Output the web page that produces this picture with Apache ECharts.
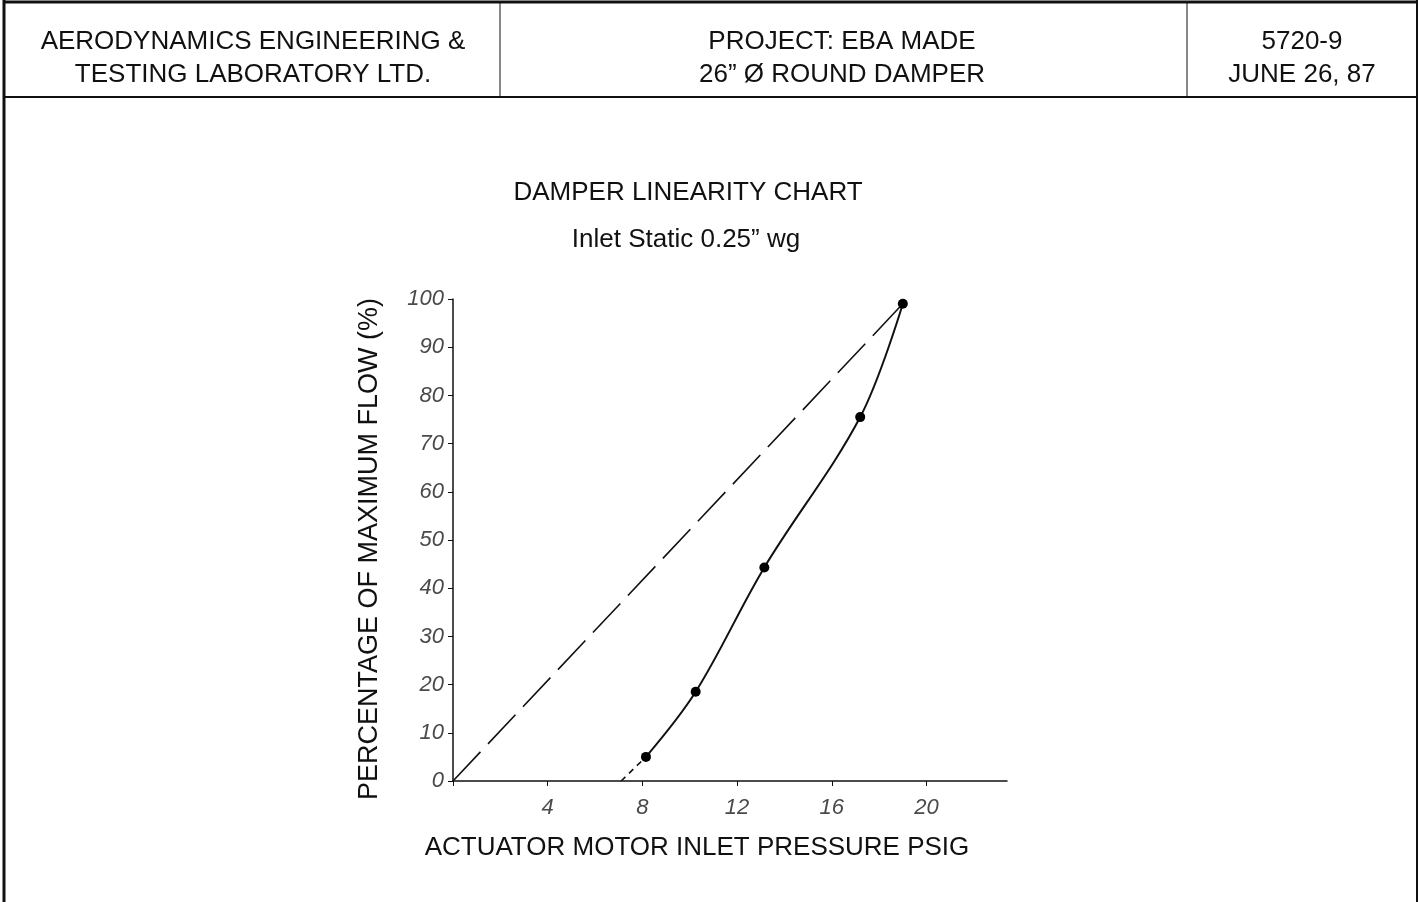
<!DOCTYPE html>
<html>
<head>
<meta charset="utf-8">
<title>Damper Linearity Chart</title>
<script src="https://cdn.jsdelivr.net/npm/echarts@6/dist/echarts.min.js"></script>
<style>
  html, body { margin: 0; padding: 0; background: #fff; }
  #main { width: 1420px; height: 902px; }
</style>
</head>
<body>
<div id="main"></div>
<script>
// measured points: actuator pressure (psig) vs % of max flow
var pressure = [8.15, 10.25, 13.15, 17.2, 19.0];
var flowPct = [5, 18.5, 44.3, 75.5, 99];
// extrapolated start of the curve, dashed down to the x axis
var extPressure = [7.1, 8.15];
var extFlow = [0, 5];
// ideal linear response
var idealPressure = [0, 19.0];
var idealFlow = [0, 99];

var xTicks = [4, 8, 12, 16, 20];
var yTicks = [0, 10, 20, 30, 40, 50, 60, 70, 80, 90, 100];

function pairs(xs, ys) {
  return xs.map(function (x, i) { return [x, ys[i]]; });
}

var font = "'Liberation Sans', Arial, Helvetica, sans-serif";
var chart = echarts.init(document.getElementById("main"));

var tickLabel = {
  fontFamily: font,
  fontStyle: "italic",
  fontSize: 22,
  color: "#4a4a4a"
};

chart.setOption({
  animation: false,
  backgroundColor: "#fff",
  title: [
    {
      text: "DAMPER LINEARITY CHART",
      left: 683, top: 175, textAlign: "center",
      textStyle: { fontFamily: font, fontSize: 26, fontWeight: "normal", color: "#111" }
    },
    {
      text: "Inlet Static 0.25\u201d wg",
      left: 681, top: 222, textAlign: "center",
      textStyle: { fontFamily: font, fontSize: 26, fontWeight: "normal", color: "#111" }
    }
  ],
  grid: { left: 453, top: 299, right: 413, bottom: 121 },
  xAxis: {
    type: "value",
    min: 0,
    max: 23.4,
    interval: 4,
    name: "ACTUATOR MOTOR INLET PRESSURE PSIG",
    nameLocation: "middle",
    nameGap: 54,
    nameTextStyle: { fontFamily: font, fontSize: 26, color: "#111", padding: [0, 66, 0, 0] },
    axisLine: { lineStyle: { color: "#111", width: 1.5 } },
    axisTick: { show: true, length: 5, customValues: [0].concat(xTicks), lineStyle: { color: "#111" } },
    axisLabel: Object.assign({ customValues: xTicks, margin: 16 }, tickLabel),
    splitLine: { show: false }
  },
  yAxis: {
    type: "value",
    min: 0,
    max: 100,
    interval: 10,
    name: "PERCENTAGE OF MAXIMUM FLOW (%)",
    nameLocation: "middle",
    nameGap: 70,
    nameRotate: 90,
    nameTextStyle: { fontFamily: font, fontSize: 27, color: "#111", padding: [0, 18, 0, 0] },
    axisLine: { show: true, lineStyle: { color: "#111", width: 1.5 } },
    axisTick: { show: true, length: 5, customValues: yTicks, lineStyle: { color: "#111" } },
    axisLabel: Object.assign({ customValues: yTicks, margin: 9 }, tickLabel),
    splitLine: { show: false }
  },
  series: [
    {
      name: "Ideal",
      type: "line",
      data: pairs(idealPressure, idealFlow),
      showSymbol: false,
      lineStyle: { color: "#111", width: 1.6, type: [40, 11] },
      z: 2
    },
    {
      name: "Extrapolated",
      type: "line",
      data: pairs(extPressure, extFlow),
      showSymbol: false,
      lineStyle: { color: "#111", width: 1.6, type: [6, 5] },
      z: 2
    },
    {
      name: "Measured",
      type: "line",
      data: pairs(pressure, flowPct),
      smooth: 0.35,
      symbol: "circle",
      symbolSize: 10,
      itemStyle: { color: "#000" },
      lineStyle: { color: "#111", width: 2 },
      z: 3
    }
  ],
  graphic: [
    // outer frame and header cells
    { type: "line", shape: { x1: 4, y1: 2, x2: 1418, y2: 2 }, style: { stroke: "#111", lineWidth: 3 } },
    { type: "line", shape: { x1: 4, y1: 0, x2: 4, y2: 902 }, style: { stroke: "#111", lineWidth: 3 } },
    { type: "line", shape: { x1: 1417, y1: 0, x2: 1417, y2: 902 }, style: { stroke: "#111", lineWidth: 2 } },
    { type: "line", shape: { x1: 4, y1: 97, x2: 1418, y2: 97 }, style: { stroke: "#111", lineWidth: 2 } },
    { type: "line", shape: { x1: 500, y1: 2, x2: 500, y2: 97 }, style: { stroke: "#111", lineWidth: 1 } },
    { type: "line", shape: { x1: 1187, y1: 2, x2: 1187, y2: 97 }, style: { stroke: "#111", lineWidth: 1 } },
    {
      type: "text", x: 253, y: 25,
      style: { text: "AERODYNAMICS ENGINEERING &\nTESTING LABORATORY LTD.", align: "center",
               font: "26px " + font, fill: "#111", lineHeight: 33 }
    },
    {
      type: "text", x: 842, y: 25,
      style: { text: "PROJECT: EBA MADE\n26\u201d \u00d8 ROUND DAMPER", align: "center",
               font: "26px " + font, fill: "#111", lineHeight: 33 }
    },
    {
      type: "text", x: 1302, y: 25,
      style: { text: "5720-9\nJUNE 26, 87", align: "center",
               font: "26px " + font, fill: "#111", lineHeight: 33 }
    }
  ]
});
</script>
</body>
</html>
